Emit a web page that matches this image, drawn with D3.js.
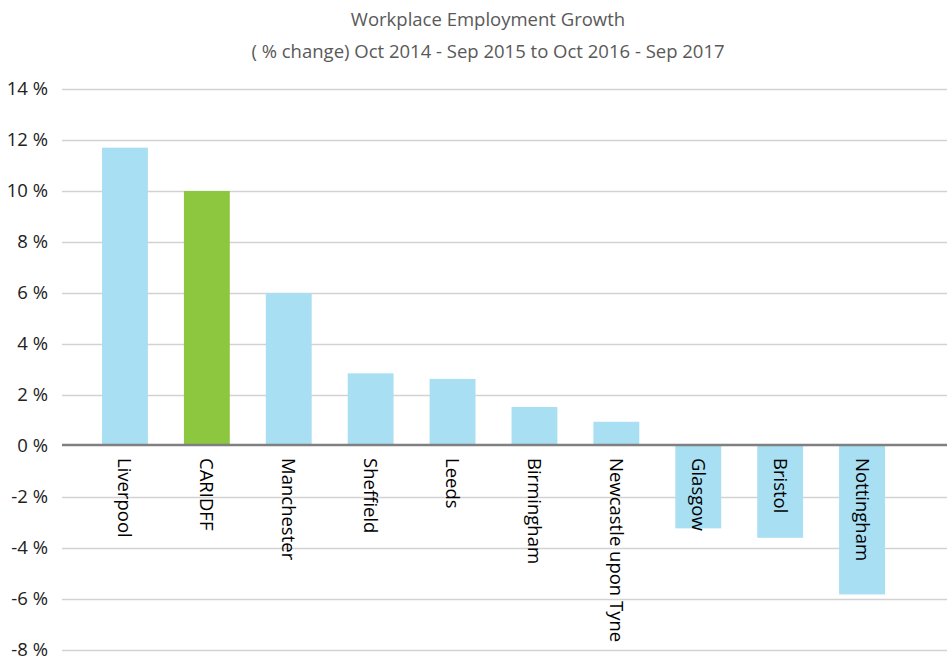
<!DOCTYPE html>
<html><head><meta charset="utf-8">
<script src="https://cdn.jsdelivr.net/npm/d3@7"></script>
<style>body{margin:0;background:#fff}svg{display:block}</style>
</head><body>
<svg id="c" width="947" height="657"></svg>
<script>
const categories = ["Liverpool","CARIDFF","Manchester","Sheffield","Leeds","Birmingham","Newcastle upon Tyne","Glasgow","Bristol","Nottingham"];
const values = [11.7, 10.0, 6.0, 2.85, 2.63, 1.53, 0.95, -3.23, -3.6, -5.82];
const highlight = ["CARIDFF"];
const yTicks = [14,12,10,8,6,4,2,0,-2,-4,-6,-8];
const titleLines = ["Workplace Employment Growth","( % change) Oct 2014 - Sep 2015 to Oct 2016 - Sep 2017"];

const svg = d3.select("#c");
const font = "'Open Sans', 'Noto Sans', sans-serif";
const y = d3.scaleLinear().domain([-8,14]).range([650,89]);
const x = d3.scaleBand().domain(categories).range([84,903]).paddingInner(0.44).paddingOuter(0.22);

// title
svg.selectAll("text.title").data(titleLines).join("text")
  .attr("class","title").attr("x",488).attr("y",(d,i)=>26+i*32)
  .attr("text-anchor","middle").attr("fill","#595959")
  .style("font-family",font).style("font-size","18.5px").text(d=>d);

// gridlines
svg.selectAll("line.grid").data(yTicks.filter(t=>t!==0)).join("line")
  .attr("class","grid").attr("x1",62).attr("x2",947)
  .attr("y1",d=>Math.round(y(d))+0.5).attr("y2",d=>Math.round(y(d))+0.5)
  .attr("stroke","#d2d2d2").attr("stroke-width",1.6);

// y labels
svg.selectAll("text.yl").data(yTicks).join("text")
  .attr("class","yl").attr("x",48).attr("y",d=>y(d)).attr("dy","0.35em")
  .attr("text-anchor","end").attr("fill","#222")
  .style("font-family",font).style("font-size","18.5px")
  .text(d=>d+" %");

// bars
svg.selectAll("rect.bar").data(categories).join("rect")
  .attr("class","bar")
  .attr("x",d=>x(d)).attr("width",x.bandwidth())
  .attr("y",(d,i)=>y(Math.max(0,values[i])))
  .attr("height",(d,i)=>Math.abs(y(values[i])-y(0)))
  .attr("fill",d=>highlight.includes(d)?"#8dc63f":"#a8dff3");

// zero line
svg.append("line").attr("x1",62).attr("x2",947)
  .attr("y1",y(0)-1).attr("y2",y(0)-1)
  .attr("stroke","#808080").attr("stroke-width",2.6);

// category labels
svg.selectAll("text.cat").data(categories).join("text")
  .attr("class","cat")
  .attr("transform",d=>`translate(${x(d)+x.bandwidth()/2},${y(0)+12}) rotate(90)`)
  .attr("dy","0.35em").attr("fill","#000")
  .style("font-family",font).style("font-size","18.5px")
  .text(d=>d);
</script>
</body></html>
